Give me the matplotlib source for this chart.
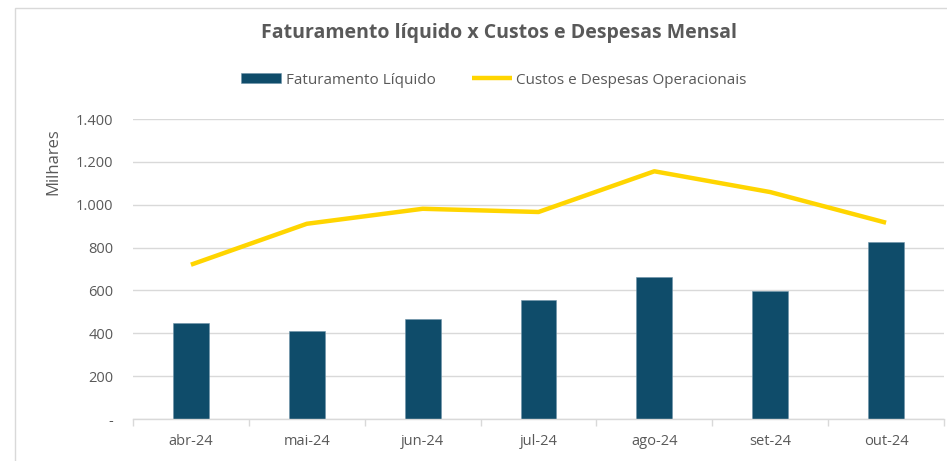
"""Faturamento líquido x Custos e Despesas Mensal (Excel-style combo chart)."""
import matplotlib

matplotlib.use("Agg")
import matplotlib.pyplot as plt
from matplotlib.patches import Rectangle
from matplotlib.ticker import FuncFormatter

meses = ["abr-24", "mai-24", "jun-24", "jul-24", "ago-24", "set-24", "out-24"]
faturamento = [447, 411, 467, 556, 661, 598, 828]          # milhares
custos_despesas = [720, 911, 981, 966, 1156, 1059, 916]   # milhares
y_ticks = [0, 200, 400, 600, 800, 1000, 1200, 1400]

BAR_COLOR = "#0F4C6A"
LINE_COLOR = "#FFD500"
TEXT_COLOR = "#595959"
GRID_COLOR = "#D9D9D9"

plt.rcParams["font.family"] = ["Open Sans", "DejaVu Sans"]

W, H = 947, 461
fig = plt.figure(figsize=(W / 100, H / 100), dpi=100)

# chart frame (Excel chart area border)
fig.patches.append(
    Rectangle((15 / W, -0.05), 1.1, 1 - 8 / H + 0.05, transform=fig.transFigure,
              fill=False, edgecolor="#D9D9D9", lw=1.0)
)

ax = fig.add_axes([133 / W, 1 - 419 / H, (944 - 133) / W, (419 - 119) / H])

x = list(range(len(meses)))
bars = ax.bar(x, faturamento, width=0.31, color=BAR_COLOR, edgecolor="#6E93A8",
              linewidth=0.4, label="Faturamento Líquido", zorder=2)
(line,) = ax.plot(x, custos_despesas, color=LINE_COLOR, lw=3.2,
                  solid_capstyle="butt",
                  label="Custos e Despesas Operacionais", zorder=3)

ax.set_xlim(-0.5, len(meses) - 0.5)
ax.set_ylim(0, 1400)
ax.set_yticks(y_ticks)
ax.yaxis.set_major_formatter(
    FuncFormatter(lambda v, _: "-" if v == 0 else f"{v:,.0f}".replace(",", "."))
)
ax.set_xticks(x)
ax.set_xticklabels(meses)
ax.set_xticks([i - 0.5 for i in range(len(meses) + 1)], minor=True)

ax.grid(axis="y", color=GRID_COLOR, lw=1.0, zorder=0)
for side in ("top", "right", "left"):
    ax.spines[side].set_visible(False)
ax.spines["bottom"].set_color(GRID_COLOR)
ax.spines["bottom"].set_linewidth(1.0)

ax.tick_params(axis="y", length=0, pad=14, labelsize=10.5, labelcolor=TEXT_COLOR)
ax.tick_params(axis="x", which="major", length=0, pad=11, labelsize=10.5,
               labelcolor=TEXT_COLOR)
ax.tick_params(axis="x", which="minor", length=5, color=GRID_COLOR, width=1.0)

fig.text(53 / W, 1 - 162 / H, "Milhares", rotation=90, ha="center", va="center",
         fontsize=12, color=TEXT_COLOR)

fig.text(499 / W, 1 - 33 / H, "Faturamento líquido x Custos e Despesas Mensal",
         ha="center", va="center", fontsize=14, fontweight="bold",
         color=TEXT_COLOR)

leg = fig.legend([bars, line], ["Faturamento Líquido", "Custos e Despesas Operacionais"],
                 loc="center", bbox_to_anchor=(494 / W, 1 - 80 / H), ncol=2,
                 frameon=False, fontsize=11, handlelength=2.6,
                 handleheight=0.7, handletextpad=0.3, columnspacing=2.4)
for t in leg.get_texts():
    t.set_color(TEXT_COLOR)

fig.savefig("out.png", dpi=100)
